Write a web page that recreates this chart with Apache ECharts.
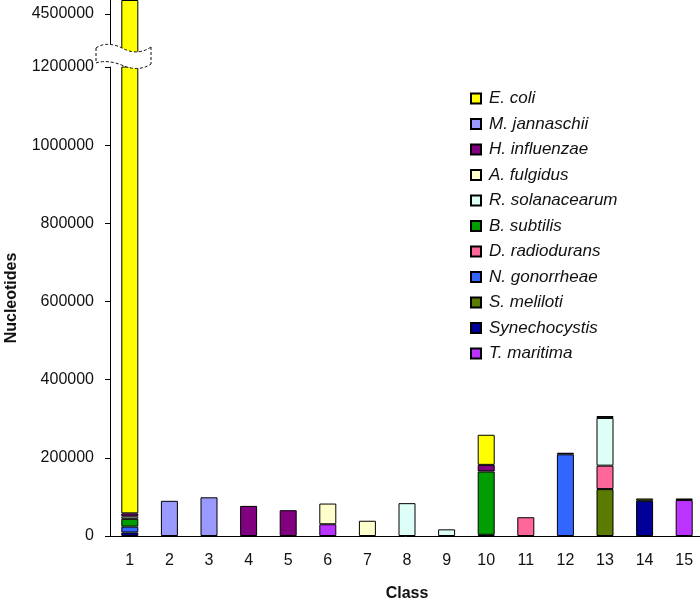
<!DOCTYPE html>
<html>
<head>
<meta charset="utf-8">
<script src="https://cdn.jsdelivr.net/npm/echarts@6/dist/echarts.min.js"></script>
<style>html,body{margin:0;padding:0;background:#fff}#c{width:700px;height:600px}</style>
</head>
<body>
<div id="c"></div>
<script>
// Categories (classes)
var categories = ['1','2','3','4','5','6','7','8','9','10','11','12','13','14','15'];
// Series values per class (null = absent)
var eColi          = [4478000, null, null, null, null, null, null, null, null, 77000, null, null, null, null, null];
var mJannaschii    = [null, 90000, 99000, null, null, null, null, null, null, null, null, null, null, null, null];
var hInfluenzae    = [8000, null, null, 77000, 66000, null, null, null, null, 17000, null, 4000, null, null, null];
var aFulgidus      = [null, null, null, null, null, 53000, 39000, null, null, null, null, null, 5000, null, null];
var rSolanacearum  = [6000, null, null, null, null, null, null, 84000, 17000, null, null, null, 122000, null, null];
var bSubtilis      = [20000, null, null, null, null, null, null, null, null, 162000, null, null, null, null, null];
var dRadiodurans   = [null, null, null, null, null, null, null, null, null, null, 48000, null, 60000, null, null];
var nGonorrheae    = [15000, null, null, null, null, null, null, null, null, null, null, 209000, null, null, null];
var sMeliloti      = [null, null, null, null, null, null, null, null, null, null, null, null, 120000, 6000, null];
var synechocystis  = [9000, null, null, null, null, null, null, null, null, 3000, null, null, null, 90000, 4000];
var tMaritima      = [null, null, null, null, null, 30000, null, null, null, null, null, null, null, null, 92000];
// Y tick labels: lower (unbroken) part and upper part above the axis break
var yTicksLower = [0, 200000, 400000, 600000, 800000, 1000000, 1200000];
var yTicksUpper = [4500000];

var seriesDefs = [
  ['E. coli', eColi, '#FFFF00'],
  ['M. jannaschii', mJannaschii, '#9999FF'],
  ['H. influenzae', hInfluenzae, '#800080'],
  ['A. fulgidus', aFulgidus, '#FFFFCC'],
  ['R. solanacearum', rSolanacearum, '#DDFFF7'],
  ['B. subtilis', bSubtilis, '#009E00'],
  ['D. radiodurans', dRadiodurans, '#FF6699'],
  ['N. gonorrheae', nGonorrheae, '#3366FF'],
  ['S. meliloti', sMeliloti, '#5A7A00'],
  ['Synechocystis', synechocystis, '#000099'],
  ['T. maritima', tMaritima, '#BB33FF']
];
var FONT = '"Liberation Sans", Arial, Helvetica, sans-serif';

// last series stacked at the bottom; drawn in both grids (lower part and the part above the break)
var series = [];
[0, 1].forEach(function (gi) {
  seriesDefs.slice().reverse().forEach(function (d) {
    series.push({
      name: d[0], type: 'bar', stack: 'all' + gi, data: d[1], barWidth: 17,
      xAxisIndex: gi, yAxisIndex: gi, clip: true,
      itemStyle: { color: d[2], borderColor: '#000', borderWidth: 1 },
      emphasis: { disabled: true }
    });
  });
});

var axisLabelStyle = {
  fontFamily: FONT, fontSize: 16, color: '#111', margin: 16,
  formatter: function (v) { return String(v); }
};

// break symbol outline (decoration): two wavy edges
function cubic(p0, p1, p2, p3, n) {
  var pts = [];
  for (var i = 0; i <= n; i++) {
    var t = i / n, u = 1 - t;
    pts.push([
      u*u*u*p0[0] + 3*u*u*t*p1[0] + 3*u*t*t*p2[0] + t*t*t*p3[0],
      u*u*u*p0[1] + 3*u*u*t*p1[1] + 3*u*t*t*p2[1] + t*t*t*p3[1]
    ]);
  }
  return pts;
}
var topEdge = cubic([96,48],[104,42],[115,44],[124,49],12).concat(cubic([124,49],[134,54],[144,52],[151,47],12).slice(1));
var botEdge = cubic([96,63],[104,60],[115,62],[124,66],12).concat(cubic([124,66],[134,70],[144,69],[151,64],12).slice(1));
var outline = topEdge.concat(botEdge.slice().reverse());
var dash = { stroke: '#111', lineWidth: 1, lineDash: [3, 2], fill: null };

var chart = echarts.init(document.getElementById('c'), null, { renderer: 'canvas' });
chart.setOption({
  animation: false,
  backgroundColor: '#fff',
  textStyle: { fontFamily: FONT },
  grid: [
    { left: 110, right: -4, top: 67, bottom: 64, containLabel: false, outerBoundsMode: 'none' },
    { left: 110, right: -4, top: 0, height: 53, containLabel: false, outerBoundsMode: 'none' }
  ],
  legend: {
    orient: 'vertical', left: 465, top: 85,
    data: seriesDefs.map(function (d) { return d[0]; }),
    itemWidth: 10, itemHeight: 10, itemGap: 8.5,
    icon: 'rect',
    textStyle: { fontFamily: FONT, fontSize: 17, fontStyle: 'italic', color: '#111', padding: [0, 0, 0, 3] }
  },
  xAxis: [{
    type: 'category', data: categories, gridIndex: 0,
    name: 'Class', nameLocation: 'middle', nameGap: 50,
    nameTextStyle: { fontFamily: FONT, fontSize: 16, fontWeight: 'bold', color: '#111' },
    axisLine: { lineStyle: { color: '#000', width: 1 } },
    axisTick: { show: false },
    axisLabel: { fontFamily: FONT, fontSize: 16, color: '#111', margin: 17 }
  }, {
    type: 'category', data: categories, gridIndex: 1, show: false
  }],
  yAxis: [{
    type: 'value', gridIndex: 0, min: 0, max: 1200000,
    splitLine: { show: false },
    axisLine: { show: true, lineStyle: { color: '#000', width: 1 } },
    axisTick: { show: true, length: 5, customValues: yTicksLower, lineStyle: { color: '#000' } },
    axisLabel: Object.assign({ customValues: yTicksLower }, axisLabelStyle)
  }, {
    type: 'value', gridIndex: 1, min: 4400000, max: 4536000,
    splitLine: { show: false },
    axisLine: { show: true, lineStyle: { color: '#000', width: 1 } },
    axisTick: { show: true, length: 5, customValues: yTicksUpper, lineStyle: { color: '#000' } },
    axisLabel: Object.assign({ customValues: yTicksUpper }, axisLabelStyle)
  }],
  graphic: [
    { type: 'polygon', z: 100, shape: { points: outline }, style: { fill: '#fff', stroke: null } },
    { type: 'polyline', z: 101, shape: { points: topEdge }, style: dash },
    { type: 'polyline', z: 101, shape: { points: botEdge }, style: dash },
    { type: 'line', z: 101, shape: { x1: 151, y1: 47, x2: 151, y2: 64 }, style: dash },
    { type: 'line', z: 101, shape: { x1: 96, y1: 48, x2: 96, y2: 63 }, style: dash },
    {
      type: 'text', x: 12, y: 298, rotation: Math.PI / 2, z: 100,
      style: { text: 'Nucleotides', font: 'bold 16px ' + FONT, fill: '#111', align: 'center', verticalAlign: 'middle' }
    }
  ],
  series: series
});
</script>
</body>
</html>
